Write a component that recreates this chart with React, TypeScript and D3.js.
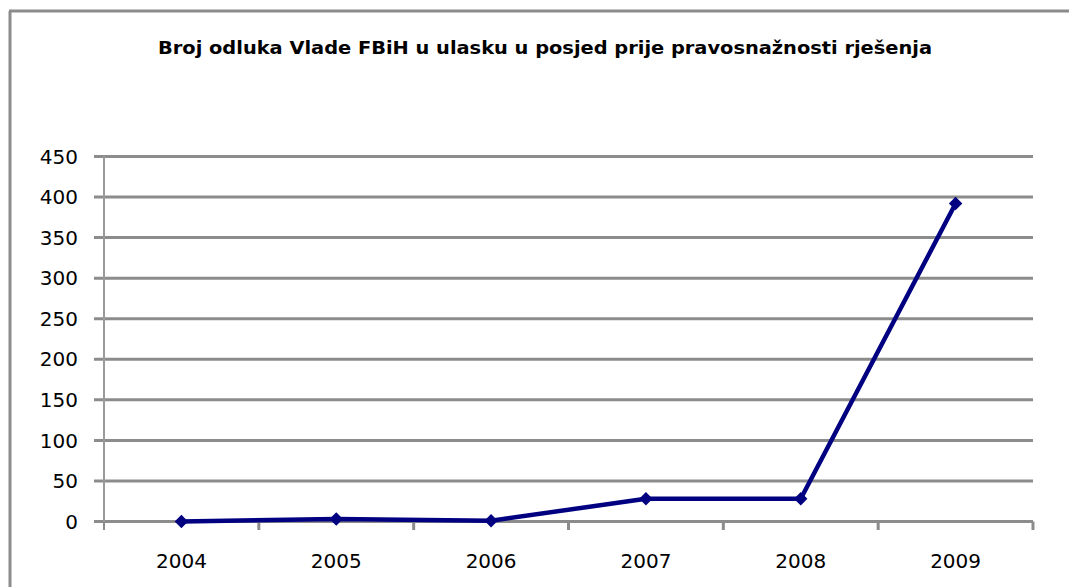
import React from "react";
import * as d3 from "d3";

const TITLE = "Broj odluka Vlade FBiH u ulasku u posjed prije pravosnažnosti rješenja";
const YEARS = ["2004", "2005", "2006", "2007", "2008", "2009"];
const VALUES = [0, 3, 1, 28, 28, 392];
const Y_TICKS = [0, 50, 100, 150, 200, 250, 300, 350, 400, 450];

const W = 1069;
const H = 587;
const GRID = "#8c8c8c";
const LINE = "#000080";
const FONT = "'DejaVu Sans', Verdana, sans-serif";

export default function App() {
  const x = d3.scaleBand<string>().domain(YEARS).range([104, 1033]);
  const y = d3.scaleLinear().domain([0, 450]).range([521.5, 156.5]);
  const cx = (d: string) => (x(d) as number) + x.bandwidth() / 2;
  const line = d3
    .line<number>()
    .x((_, i) => cx(YEARS[i]))
    .y((v) => y(v));
  const boundaries = d3.range(YEARS.length + 1).map((i) => 104 + i * x.bandwidth());
  const diamond = d3.symbol().type(d3.symbolSquare).size(90)();

  return (
    <svg
      width={W}
      height={H}
      style={{ position: "absolute", left: 0, top: 0, background: "#fff" }}
    >
      <rect x={0} y={0} width={W} height={H} fill="#fff" />
      {/* outer frame */}
      <line x1={9} y1={11} x2={W} y2={11} stroke={GRID} strokeWidth={3} />
      <line x1={10} y1={11} x2={10} y2={H} stroke={GRID} strokeWidth={3} />

      <text
        x={545}
        y={54}
        textAnchor="middle"
        fontFamily={FONT}
        fontWeight="bold"
        fontSize={18}
        textLength={774}
        lengthAdjust="spacingAndGlyphs"
        fill="#000"
      >
        {TITLE}
      </text>

      {/* gridlines */}
      {Y_TICKS.map((t) => (
        <line
          key={"g" + t}
          x1={94}
          x2={1033}
          y1={y(t)}
          y2={y(t)}
          stroke={GRID}
          strokeWidth={3}
        />
      ))}
      {/* y axis */}
      <line x1={104} x2={104} y1={y(450)} y2={530} stroke="#9a9a9a" strokeWidth={2} />
      {/* x ticks */}
      {boundaries.map((b, i) => (
        <line
          key={"t" + i}
          x1={b}
          x2={b}
          y1={y(0)}
          y2={530}
          stroke={GRID}
          strokeWidth={i === 0 ? 2 : 3}
        />
      ))}
      {/* y labels */}
      {Y_TICKS.map((t) => (
        <text
          key={"yl" + t}
          x={78}
          y={y(t)}
          dy="0.36em"
          textAnchor="end"
          fontFamily={FONT}
          fontSize={20}
          fill="#000"
        >
          {t}
        </text>
      ))}
      {/* x labels */}
      {YEARS.map((yr) => (
        <text
          key={"xl" + yr}
          x={cx(yr)}
          y={568}
          textAnchor="middle"
          fontFamily={FONT}
          fontSize={20}
          fill="#000"
        >
          {yr}
        </text>
      ))}
      {/* series */}
      <path d={line(VALUES) || ""} fill="none" stroke={LINE} strokeWidth={4.5} strokeLinejoin="round" />
      {VALUES.map((v, i) => (
        <path
          key={"m" + i}
          d={diamond || ""}
          transform={`translate(${cx(YEARS[i])},${y(v)}) rotate(45)`}
          fill={LINE}
        />
      ))}
    </svg>
  );
}
